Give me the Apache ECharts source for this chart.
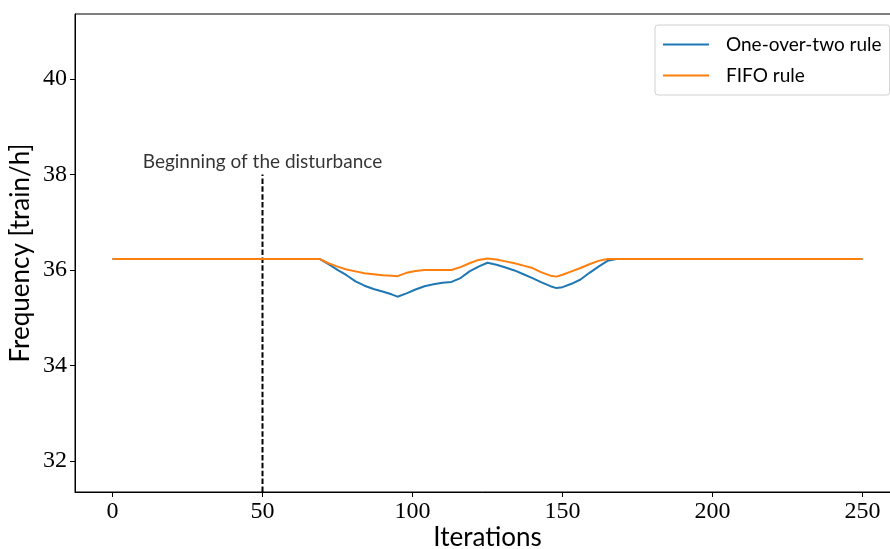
<!DOCTYPE html>
<html>
<head>
<meta charset="utf-8">
<script src="https://cdn.jsdelivr.net/npm/echarts@6/dist/echarts.min.js"></script>
<style>html,body{margin:0;padding:0;background:#fff}#c{width:890px;height:549px}</style>
</head>
<body>
<div id="c"></div>
<script>
// Iterations at which values were read (line is straight between them)
const iterations = [0, 69, 72, 75, 78, 81, 84, 87, 90, 93, 95, 98, 101, 104, 107, 110, 113, 116, 119, 122, 125, 128, 131, 134, 137, 140, 143, 146, 148, 150, 153, 156, 159, 162, 165, 168, 250];
const oneOverTwo = [36.23, 36.23, 36.12, 36.00, 35.89, 35.76, 35.67, 35.60, 35.55, 35.49, 35.44, 35.51, 35.59, 35.66, 35.70, 35.73, 35.75, 35.83, 35.97, 36.07, 36.15, 36.11, 36.05, 35.99, 35.91, 35.83, 35.74, 35.66, 35.62, 35.64, 35.71, 35.80, 35.94, 36.07, 36.19, 36.23, 36.23];
const fifo = [36.23, 36.23, 36.14, 36.07, 36.01, 35.97, 35.93, 35.91, 35.89, 35.88, 35.87, 35.94, 35.98, 36.00, 36.00, 36.00, 36.00, 36.06, 36.14, 36.21, 36.24, 36.22, 36.18, 36.14, 36.09, 36.04, 35.95, 35.88, 35.86, 35.90, 35.97, 36.04, 36.12, 36.19, 36.23, 36.23, 36.23];
const xTicks = [0, 50, 100, 150, 200, 250];
const yTicks = [32, 34, 36, 38, 40];
const disturbanceStart = 50;
const disturbanceTop = 38;
const disturbanceLabel = 'Beginning of the disturbance';
const seriesNames = ['One-over-two rule', 'FIFO rule'];

const yMin = 31.35, yMax = 41.36;
const sans = 'Lato';
const serif = 'Liberation Serif';

const chart = echarts.init(document.getElementById('c'), null, {renderer: 'canvas'});
chart.setOption({
  animation: false,
  backgroundColor: '#fff',
  grid: {left: 75, top: 14, width: 825, height: 478, show: true, borderColor: '#000', borderWidth: 1, containLabel: false, outerBoundsMode: 'none'},
  xAxis: {
    type: 'value', min: -12.5, max: 262.5,
    name: 'Iterations', nameLocation: 'middle', nameGap: 33, nameMoveOverlap: false,
    nameTextStyle: {fontFamily: sans, fontSize: 26, color: '#000'},
    axisLine: {show: true, onZero: false, lineStyle: {color: '#000', width: 1}},
    axisTick: {show: true, inside: false, length: 5, customValues: xTicks, lineStyle: {color: '#000'}},
    axisLabel: {customValues: xTicks, fontFamily: serif, fontSize: 24, color: '#000', margin: 8},
    splitLine: {show: false}
  },
  yAxis: {
    type: 'value', min: yMin, max: yMax,
    name: 'Frequency [train/h]', nameLocation: 'middle', nameGap: 41, nameMoveOverlap: false,
    nameTextStyle: {fontFamily: sans, fontSize: 26, color: '#000'},
    axisLine: {show: true, onZero: false, lineStyle: {color: '#000', width: 1}},
    axisTick: {show: true, inside: false, length: 5, customValues: yTicks, lineStyle: {color: '#000'}},
    axisLabel: {customValues: yTicks, fontFamily: serif, fontSize: 24, color: '#000', margin: 8},
    splitLine: {show: false}
  },
  legend: {
    left: 655, top: 25, orient: 'vertical',
    padding: [10, 8, 10, 8], itemGap: 12,
    itemWidth: 46, itemHeight: 20,
    borderColor: '#d0d0d0', borderWidth: 1, borderRadius: 3, backgroundColor: '#fff',
    textStyle: {fontFamily: sans, fontSize: 19, color: '#000', padding: [0, 0, 0, 12]},
    data: seriesNames.map(n => ({name: n, icon: 'path://M0,9.5 L46,9.5 L46,11.5 L0,11.5 Z'}))
  },
  series: [
    {
      name: seriesNames[0], type: 'line', showSymbol: false, symbol: 'none',
      data: iterations.map((x, i) => [x, oneOverTwo[i]]),
      lineStyle: {color: '#1f77b4', width: 2}, itemStyle: {color: '#1f77b4'}, z: 3
    },
    {
      name: seriesNames[1], type: 'line', showSymbol: false, symbol: 'none',
      data: iterations.map((x, i) => [x, fifo[i]]),
      lineStyle: {color: '#ff7f0e', width: 2}, itemStyle: {color: '#ff7f0e'}, z: 4
    },
    {
      name: 'disturbance', type: 'line', showSymbol: false, symbol: 'none',
      data: [[disturbanceStart, yMin], [disturbanceStart, disturbanceTop]],
      lineStyle: {color: '#000', width: 2, type: [5.5, 2.4]}, z: 2, silent: true
    },
    {
      name: 'label', type: 'scatter', symbolSize: 0, silent: true,
      data: [[disturbanceStart, disturbanceTop]],
      label: {show: true, position: 'top', distance: 3, formatter: disturbanceLabel, fontFamily: sans, fontSize: 19, color: '#000', textBorderWidth: 0}
    }
  ]
});
</script>
</body>
</html>
